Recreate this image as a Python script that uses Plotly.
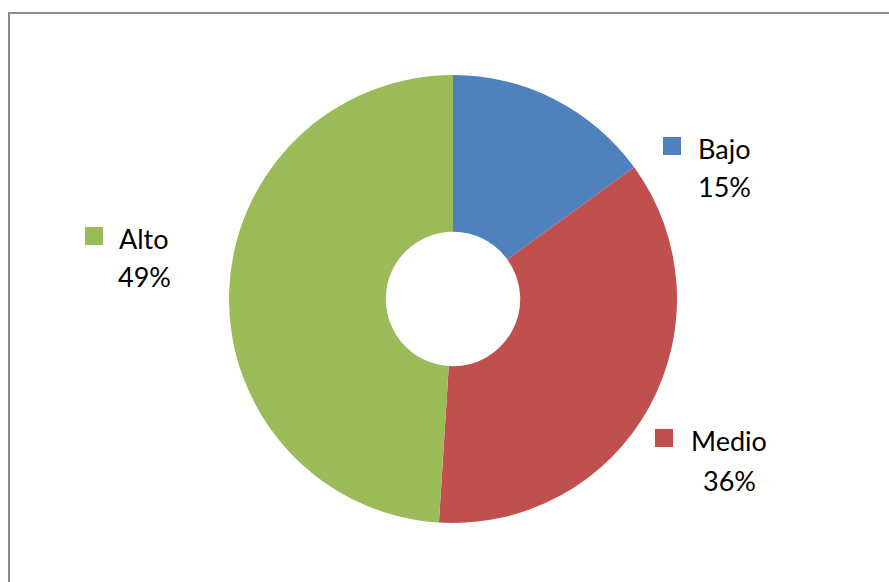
import plotly.graph_objects as go

labels = ["Bajo", "Medio", "Alto"]
values = [15, 36, 49]
colors = ["#4F81BD", "#C0504D", "#9BBB59"]

W, H = 889, 582
# label placement (pixels): square left/top, text center x, line1 y, line2 y
label_pos = {
    "Bajo": (663, 137, 724, 148, 187),
    "Medio": (655, 429, 729, 440, 480),
    "Alto": (85, 227, 144, 238, 276),
}

fig = go.Figure(go.Pie(
    labels=labels, values=values, sort=False, direction="clockwise", rotation=0,
    hole=0.30, marker=dict(colors=colors, line=dict(width=0)),
    textinfo="none", hoverinfo="label+percent", showlegend=False,
    domain=dict(x=[(453 - 224) / W, (453 + 224) / W], y=[(H - 299 - 224) / H, (H - 299 + 224) / H]),
))

font = dict(family="Lato", size=27, color="#000000")
shapes = [dict(type="rect", xref="paper", yref="paper", x0=9 / W, x1=1.02, y0=-0.02, y1=1 - 13 / H,
               line=dict(color="#8c8c8c", width=2), fillcolor="rgba(0,0,0,0)")]
annotations = []
for lab, val, col in zip(labels, values, colors):
    sx, sy, tx, y1, y2 = label_pos[lab]
    shapes.append(dict(type="rect", xref="paper", yref="paper", x0=sx / W, x1=(sx + 18) / W,
                       y0=1 - (sy + 18) / H, y1=1 - sy / H, fillcolor=col, line=dict(width=0)))
    annotations.append(dict(text=lab, x=tx / W, y=1 - y1 / H, xref="paper", yref="paper",
                            showarrow=False, xanchor="center", yanchor="middle", font=font))
    annotations.append(dict(text=f"{val}%", x=tx / W, y=1 - y2 / H, xref="paper", yref="paper",
                            showarrow=False, xanchor="center", yanchor="middle", font=font))

fig.update_layout(width=W, height=H, margin=dict(l=0, r=0, t=0, b=0),
                  paper_bgcolor="white", plot_bgcolor="white",
                  shapes=shapes, annotations=annotations)
fig.write_html("out.html", config={"displayModeBar": False},
               post_script="document.body.style.margin='0';document.body.style.overflow='hidden';")
